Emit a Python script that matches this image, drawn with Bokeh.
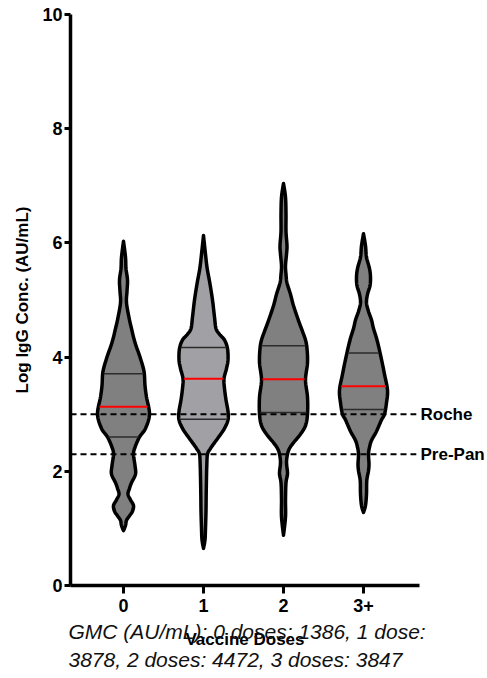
import numpy as np
from bokeh.plotting import figure
from bokeh.models import Label, FixedTicker
from bokeh.embed import file_html
from bokeh.resources import INLINE

# ---- data -------------------------------------------------------------
doses = ["0", "1", "2", "3+"]
q1 = [2.60, 2.91, 3.03, 3.08]
median = [3.13, 3.62, 3.61, 3.49]
q3 = [3.71, 4.17, 4.20, 4.07]
roche_cutoff = 3.0
prepan_cutoff = 2.3
y_ticks = [0, 2, 4, 6, 8, 10]
gmc_text = ["GMC (AU/mL): 0 doses: 1386, 1 dose:",
            "3878, 2 doses: 4472, 3 doses: 3847"]

# density outlines (log level, relative density) for each dose group
levels_0 = [0.96, 1.05, 1.14, 1.22, 1.30, 1.40, 1.50, 1.60, 1.70, 1.80, 1.95, 2.10,
            2.30, 2.42, 2.60, 2.75, 3.00, 3.30, 3.50, 3.75, 4.00, 4.20, 4.35, 4.50,
            4.65, 4.95, 5.15, 5.35, 5.55, 5.75, 6.03]
dens_0 = [0, 2, 3, 6, 9, 10, 7, 4.5, 6, 8, 12, 11.5,
          10, 11.5, 16, 22, 26, 23, 21.5, 20.5, 16.5, 12.5, 10, 8,
          6, 3, 3.5, 4, 2.5, 2, 0]

levels_1 = [0.65, 0.80, 1.00, 1.30, 1.60, 1.90, 2.10, 2.30, 2.40, 2.50, 2.62, 2.75,
            2.90, 3.05, 3.25, 3.45, 3.62, 3.80, 3.95, 4.15, 4.30, 4.40, 4.50, 4.70,
            5.00, 5.30, 5.55, 5.80, 6.13]
dens_1 = [0, 1.5, 2, 2.5, 2.7, 3, 3.3, 4, 7, 11, 16, 21,
          24.5, 24.5, 22.5, 21, 20.5, 23, 24.5, 24, 21, 16, 12.5, 11,
          9, 6.3, 3.7, 2, 0]

levels_2 = [0.88, 1.20, 1.50, 1.80, 1.96, 2.15, 2.30, 2.40, 2.50, 2.65, 2.80, 3.00,
            3.30, 3.60, 3.90, 4.15, 4.30, 4.45, 4.64, 4.90, 5.10, 5.30, 5.45, 5.60,
            5.80, 5.95, 6.20, 6.50, 6.80, 7.04]
dens_2 = [0, 2, 2, 2.5, 4, 3, 4, 6, 10, 17, 22, 24,
          24, 22, 24, 23.5, 22, 19, 15, 10, 7, 3.5, 2.5, 2,
          3, 3.5, 2.5, 2.5, 2, 0]

levels_3 = [1.28, 1.40, 1.60, 1.84, 2.01, 2.13, 2.30, 2.42, 2.54, 2.70, 2.90, 3.00,
            3.20, 3.42, 3.70, 4.00, 4.30, 4.50, 4.65, 4.80, 4.95, 5.10, 5.25, 5.40,
            5.55, 5.75, 5.95, 6.16]
dens_3 = [0, 2, 3, 3.3, 5, 5.5, 5, 6, 8, 13, 18, 21,
          23, 24, 21, 17.5, 13.5, 10, 8, 5, 3, 4, 6.5, 7,
          6, 3, 2, 0]

levels = [levels_0, levels_1, levels_2, levels_3]
densities = [dens_0, dens_1, dens_2, dens_3]

# ---- styling ------------------------------------------------------------
FONT = "Liberation Sans"
FILLS = ["#808080", "#a1a1a5", "#808080", "#808080"]
DENSITY_SCALE = 1 / 80.0          # density units -> category widths
X_AXIS_SPAN = (-0.6625, 3.7)      # extent of the drawn x axis
Y_AXIS_SPAN = (0, 10)             # extent of the drawn y axis


def catmull_rom(ys, ws, n=10):
    """Smooth outline through the density points."""
    pts = np.column_stack([ys, ws]).astype(float)
    P = np.vstack([pts[0], pts, pts[-1]])
    out = []
    for i in range(1, len(P) - 2):
        p0, p1, p2, p3 = P[i - 1], P[i], P[i + 1], P[i + 2]
        for t in np.linspace(0, 1, n, endpoint=False):
            t2, t3 = t * t, t * t * t
            out.append(0.5 * ((2 * p1) + (-p0 + p2) * t
                              + (2 * p0 - 5 * p1 + 4 * p2 - p3) * t2
                              + (-p0 + 3 * p1 - 3 * p2 + p3) * t3))
    out.append(P[-2])
    out = np.array(out)
    out[:, 1] = np.clip(out[:, 1], 0, None)
    return out[:, 0], out[:, 1]


# the frame fills the whole canvas; the axes sit at fixed data locations
p = figure(width=487, height=678, x_range=(-1.5375, 4.55), y_range=(-1.629, 10.245),
           output_backend="svg", toolbar_location=None,
           min_border=0)
p.outline_line_color = None
p.xgrid.visible = False
p.ygrid.visible = False
p.background_fill_color = "white"
p.border_fill_color = "white"

for i in range(len(doses)):
    y, w = catmull_rom(levels[i], densities[i])
    half = w * DENSITY_SCALE
    xs = np.concatenate([i + half, (i - half)[::-1]])
    ys = np.concatenate([y, y[::-1]])
    p.patch(xs, ys, fill_color=FILLS[i], line_color="black",
            line_width=3.5, line_join="round")

    for lv, col, lw in [(q1[i], "#2b2b2b", 1.5), (q3[i], "#2b2b2b", 1.5),
                        (median[i], "#ff0000", 2)]:
        h = np.interp(lv, y, half) - 0.012
        p.segment(x0=[i - h], y0=[lv], x1=[i + h], y1=[lv],
                  line_color=col, line_width=lw)

# threshold lines with their names at the right end
for lvl, name in [(roche_cutoff, "Roche"), (prepan_cutoff, "Pre-Pan")]:
    p.segment(x0=[X_AXIS_SPAN[0]], y0=[lvl], x1=[X_AXIS_SPAN[1] - 0.04], y1=[lvl],
              line_color="black", line_width=2, line_dash="6 4")
    p.add_layout(Label(x=X_AXIS_SPAN[1], y=lvl, text=name, x_offset=1,
                       text_font=FONT, text_font_size="17px",
                       text_font_style="bold", text_baseline="middle",
                       text_color="black"))

# axes
for ax in (p.xaxis, p.yaxis):
    ax.axis_line_width = 3.5
    ax.axis_line_color = "black"
    ax.major_tick_line_width = 3
    ax.major_tick_line_color = "black"
    ax.major_tick_in = 0
    ax.major_tick_out = 8
    ax.minor_tick_line_color = None
    ax.major_label_text_font = FONT
    ax.major_label_text_font_size = "18px"
    ax.major_label_text_font_style = "bold"
    ax.major_label_text_color = "black"
    ax.axis_label_text_font = FONT
    ax.axis_label_text_font_size = "17px"
    ax.axis_label_text_font_style = "bold"
    ax.axis_label_text_color = "black"

p.xaxis.fixed_location = Y_AXIS_SPAN[0]
p.xaxis.bounds = X_AXIS_SPAN
p.xaxis.ticker = FixedTicker(ticks=list(range(len(doses))))
p.xaxis.major_label_overrides = {k: d for k, d in enumerate(doses)}
p.xaxis.major_label_standoff = 6
p.xaxis.axis_label = "Vaccine Doses"
p.xaxis.axis_label_standoff = 14

p.yaxis.fixed_location = X_AXIS_SPAN[0]
p.yaxis.bounds = Y_AXIS_SPAN
p.yaxis.ticker = FixedTicker(ticks=y_ticks)
p.yaxis.major_tick_out = 6
p.yaxis.major_label_standoff = 2
p.yaxis.axis_label = "Log IgG Conc. (AU/mL)"
p.yaxis.axis_label_standoff = 7

# geometric mean note under the axis
for k, line in enumerate(gmc_text):
    p.add_layout(Label(x=68, y=47 - 28 * k, x_units="screen", y_units="screen",
                       text=line, text_font=FONT, text_font_size="21px",
                       text_font_style="italic", text_baseline="middle",
                       text_color="#111111"))

open("out.html", "w").write(file_html(p, INLINE))
